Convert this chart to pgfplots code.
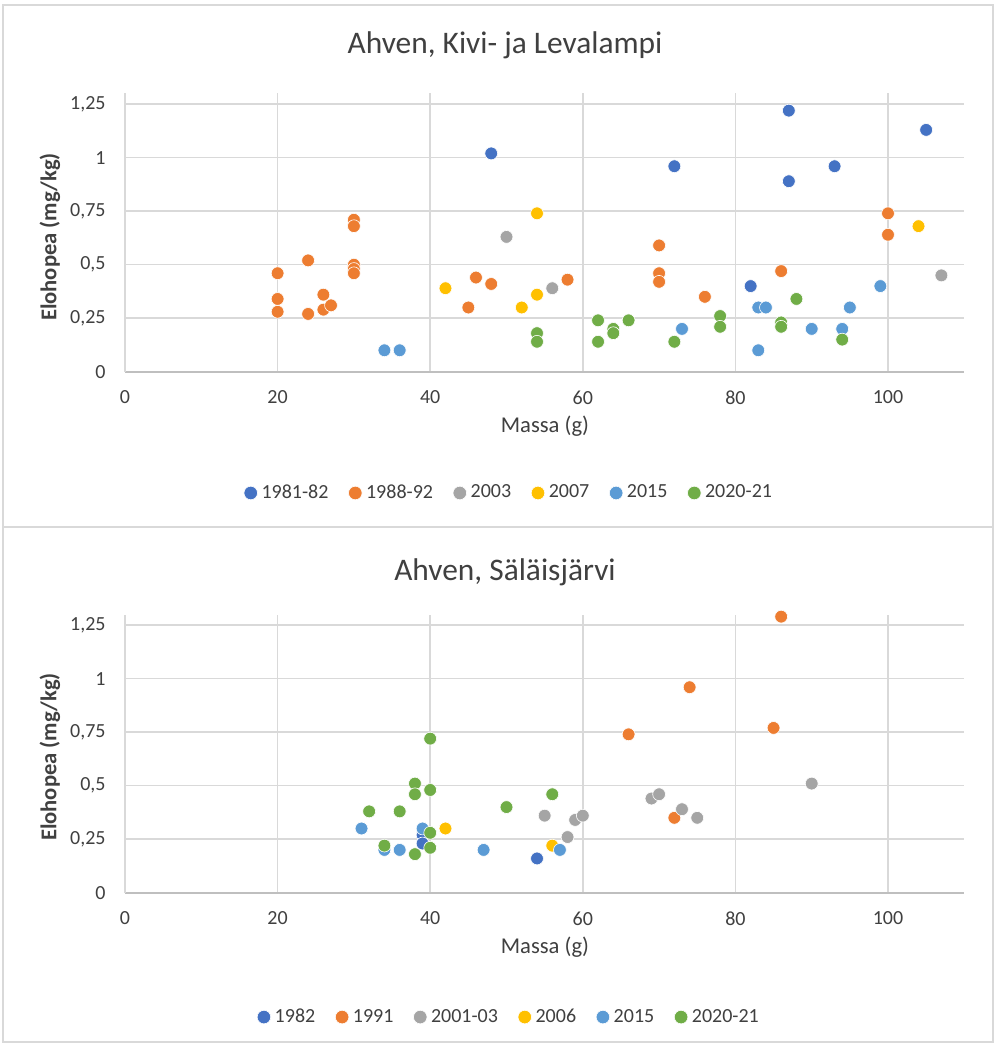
\documentclass[border=0pt]{standalone}
\usepackage{pgfplots}
\pgfplotsset{compat=1.18}
\usepackage{fontspec}
\setmainfont{Carlito}

\definecolor{cA}{HTML}{4472C4}
\definecolor{cB}{HTML}{ED7D31}
\definecolor{cC}{HTML}{A5A5A5}
\definecolor{cD}{HTML}{FFC000}
\definecolor{cE}{HTML}{5B9BD5}
\definecolor{cF}{HTML}{70AD47}
\definecolor{gridgray}{HTML}{D9D9D9}
\definecolor{axisgray}{HTML}{BFBFBF}
\definecolor{txt}{HTML}{404040}

\pgfplotsset{
  massa/.style={
    scale only axis, width=419.65pt, height=139.1pt,
    anchor=south west, clip=false,
    xmin=0, xmax=110, ymin=0, ymax=1.3,
    xtick={0,20,40,60,80,100}, xticklabels={0,20,40,60,80,100},
    ytick={0,0.25,0.5,0.75,1,1.25},
    yticklabels={0,{0,25},{0,5},{0,75},1,{1,25}},
    /pgf/number format/assume math mode=true,
    grid=major, major grid style={color=gridgray, line width=0.75pt},
    separate axis lines, axis x line*=bottom, axis y line*=left,
    x axis line style={color=axisgray, line width=0.9pt},
    y axis line style={color=gridgray, line width=0.75pt},
    major tick length=0pt,
    ticklabel style={font=\fontsize{10}{12}\selectfont, text=txt},
    xticklabel style={yshift=-6pt},
    yticklabel style={xshift=-6.2pt},
    legend cell align=left,
    legend image code/.code={\draw[#1, mark size=3.4pt] plot coordinates {(0pt,0pt)};},
    legend style={draw=none, fill=none, legend columns=6, anchor=center,
      font=\fontsize{10}{12}\selectfont, text=txt,
      /tikz/every even column/.append style={column sep=8pt}},
  },
  dot/.style={only marks, mark=*, mark size=3.2pt, color=#1,
    mark options={fill=#1, draw=white, line width=0.3pt}},
}

\begin{document}
\begin{tikzpicture}[x=1pt,y=1pt]
\useasboundingbox (0,0) rectangle (498.5,523);
\fill[white] (0,0) rectangle (498.5,523);
\draw[gridgray, line width=0.6pt] (1.5,259.5) rectangle (496.5,520.5);
\draw[gridgray, line width=0.6pt] (1.5,2) rectangle (496.5,259.5);

% top chart
\node[text=txt, font=\fontsize{15.7}{18}\selectfont] at (252.5,500.5) {Ahven, Kivi- ja Levalampi};
\node[text=txt, font=\fontsize{11.3}{13}\selectfont] at (272.5,310) {Massa (g)};
\node[text=txt, font=\bfseries\fontsize{11.3}{13}\selectfont, rotate=90] at (25,404.5) {Elohopea (mg/kg)};
\begin{axis}[massa, at={(62.5pt,337.15pt)},
  legend style={at={(0.4587,-0.436)}}]
\addplot[dot=cA] coordinates {(48,1.02) (72,0.96) (82,0.40) (87,1.22) (87,0.89) (93,0.96) (105,1.13)};
\addplot[dot=cB] coordinates {(20,0.46) (20,0.34) (20,0.28) (24,0.52) (24,0.27) (26,0.36) (26,0.29) (27,0.31)
  (30,0.71) (30,0.68) (30,0.50) (30,0.48) (30,0.46) (45,0.30) (46,0.44) (48,0.41) (58,0.43)
  (70,0.59) (70,0.46) (70,0.42) (76,0.35) (86,0.47) (100,0.74) (100,0.64)};
\addplot[dot=cC] coordinates {(50,0.63) (56,0.39) (107,0.45)};
\addplot[dot=cD] coordinates {(42,0.39) (52,0.30) (54,0.74) (54,0.36) (104,0.68)};
\addplot[dot=cE] coordinates {(34,0.10) (36,0.10) (73,0.20) (83,0.30) (84,0.30) (83,0.10) (90,0.20) (94,0.20) (95,0.30) (99,0.40)};
\addplot[dot=cF] coordinates {(54,0.18) (54,0.14) (62,0.24) (62,0.14) (64,0.20) (64,0.18) (66,0.24) (72,0.14)
  (78,0.26) (78,0.21) (86,0.23) (86,0.21) (88,0.34) (94,0.15)};
\legend{1981-82,1988-92,2003,2007,2015,2020-21}
\end{axis}

% bottom chart
\node[text=txt, font=\fontsize{15.7}{18}\selectfont] at (252.5,237) {Ahven, Säläisjärvi};
\node[text=txt, font=\fontsize{11.3}{13}\selectfont] at (272.5,49.5) {Massa (g)};
\node[text=txt, font=\bfseries\fontsize{11.3}{13}\selectfont, rotate=90] at (25,144.5) {Elohopea (mg/kg)};
\begin{axis}[massa, at={(62.5pt,76.65pt)},
  legend style={at={(0.4587,-0.447)}}]
\addplot[dot=cA] coordinates {(39,0.27) (39,0.23) (54,0.16)};
\addplot[dot=cB] coordinates {(66,0.74) (72,0.35) (74,0.96) (85,0.77) (86,1.29)};
\addplot[dot=cC] coordinates {(55,0.36) (58,0.26) (59,0.34) (60,0.36) (69,0.44) (70,0.46) (73,0.39) (75,0.35) (90,0.51)};
\addplot[dot=cD] coordinates {(42,0.30) (56,0.22)};
\addplot[dot=cE] coordinates {(31,0.30) (34,0.20) (36,0.20) (39,0.30) (47,0.20) (57,0.20)};
\addplot[dot=cF] coordinates {(32,0.38) (34,0.22) (36,0.38) (38,0.51) (38,0.46) (38,0.18) (40,0.72) (40,0.48)
  (40,0.28) (40,0.21) (50,0.40) (56,0.46)};
\legend{1982,1991,2001-03,2006,2015,2020-21}
\end{axis}
\end{tikzpicture}
\end{document}
